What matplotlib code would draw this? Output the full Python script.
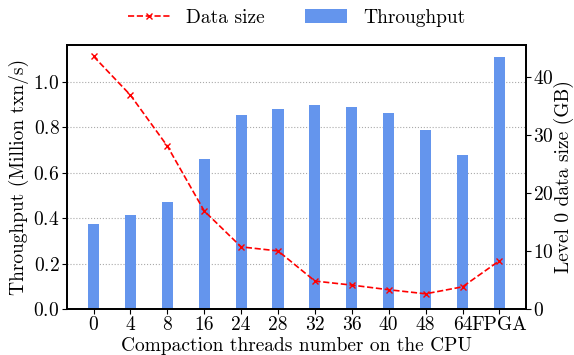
import matplotlib
matplotlib.use("Agg")
import matplotlib.pyplot as plt
import numpy as np

plt.rcParams["font.family"] = ["cmr10", "DejaVu Serif"]
plt.rcParams["axes.formatter.use_mathtext"] = True
plt.rcParams["mathtext.fontset"] = "cm"

threads = ["0", "4", "8", "16", "24", "28", "32", "36", "40", "48", "64", "FPGA"]
throughput = [0.375, 0.413, 0.47, 0.66, 0.857, 0.88, 0.897, 0.892, 0.866, 0.787, 0.678, 1.11]
data_size = [43.6, 36.9, 28.1, 16.9, 10.7, 10.0, 4.8, 4.1, 3.3, 2.6, 3.8, 8.3]

x = np.arange(len(threads))

fig, ax = plt.subplots(figsize=(5.74, 3.55), dpi=100)
ax2 = ax.twinx()

bars = ax.bar(x, throughput, width=0.3, color="cornflowerblue", label="Throughput", zorder=2)
line, = ax2.plot(x, data_size, color="red", linestyle="--", marker="x",
                 markersize=5, linewidth=1.2, label="Data size")

ax.set_xticks(x)
ax.set_xticklabels(threads)
ax.set_xlabel("Compaction threads number on the CPU", fontsize=14, labelpad=2)
ax.set_ylabel("Throughput (Million txn/s)", fontsize=14, labelpad=3)
ax2.set_ylabel("Level 0 data size (GB)", fontsize=14, labelpad=0)
ax.set_ylim(0, 1.165)
ax2.set_ylim(0, 45.6)
ax.set_yticks([0, 0.2, 0.4, 0.6, 0.8, 1.0])
ax2.set_yticks([0, 10, 20, 30, 40])
ax.tick_params(axis="both", labelsize=14, pad=2)
ax2.tick_params(axis="y", labelsize=14, pad=2)
ax.yaxis.grid(True, linestyle=":", color="#aaaaaa", linewidth=0.8, zorder=0)
ax.set_axisbelow(True)

for a in (ax, ax2):
    for s in a.spines.values():
        s.set_linewidth(1.3)

fig.legend([line, bars], ["Data size", "Throughput"], loc="center",
           bbox_to_anchor=(0.517, 0.95), ncol=2, frameon=False, fontsize=14,
           columnspacing=2.1, handlelength=2.15, handletextpad=0.84)

fig.subplots_adjust(left=0.117, right=0.916, top=0.874, bottom=0.13)
fig.savefig("out.png", dpi=100)
